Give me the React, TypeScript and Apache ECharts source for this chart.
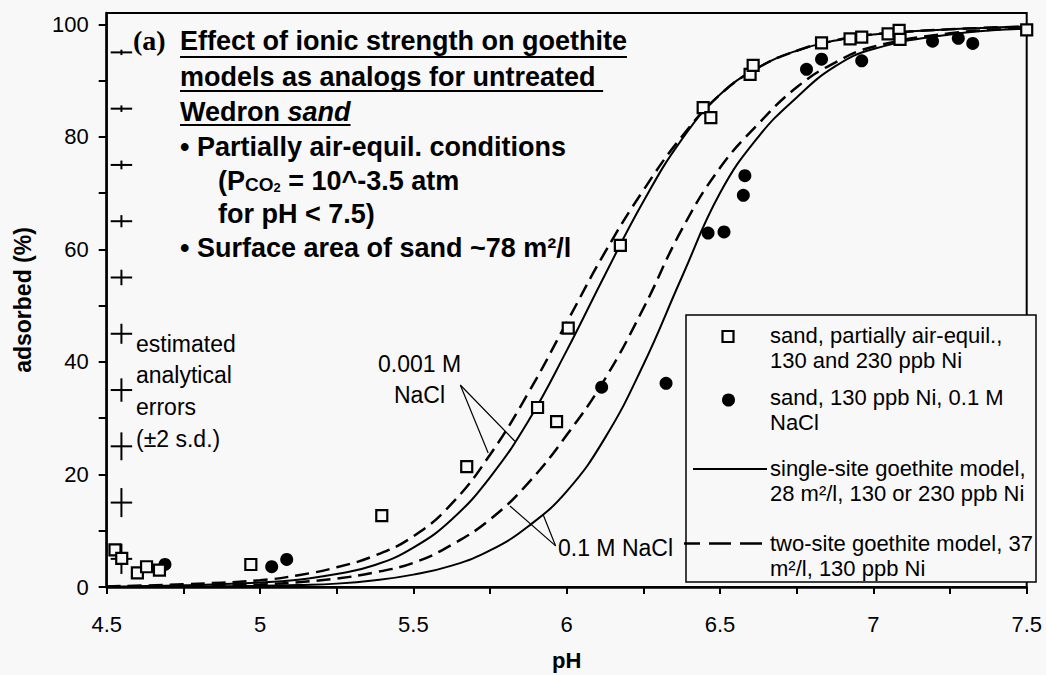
import React, { useEffect, useRef } from "react";
import * as echarts from "echarts";

// Model curves (adsorbed % vs pH) for 0.001 M and 0.1 M NaCl
const curvePH = [4.5, 4.75, 5.0, 5.125, 5.25, 5.375, 5.5, 5.625, 5.75, 5.875, 6.0, 6.125, 6.25, 6.375, 6.5, 6.625, 6.75, 6.875, 7.0, 7.25, 7.5];
const singleSiteLowSalt = [0.05, 0.3, 0.8, 1.3, 2.3, 3.9, 7.0, 12.0, 19.5, 29.5, 42.0, 55.5, 68.5, 79.5, 87.5, 92.3, 95.3, 97.1, 98.2, 99.1, 99.6];
const twoSiteLowSalt = [0.1, 0.5, 1.2, 2.1, 3.5, 5.6, 9.0, 14.8, 23.5, 34.5, 47.0, 59.5, 70.5, 80.0, 87.5, 92.3, 95.3, 97.1, 98.2, 99.1, 99.6];
const singleSiteHighSalt = [0.01, 0.06, 0.2, 0.35, 0.6, 1.2, 2.2, 3.8, 6.5, 10.8, 17.0, 26.5, 39.5, 55.0, 70.0, 80.0, 87.0, 92.5, 95.6, 98.2, 99.2];
const twoSiteHighSalt = [0.03, 0.15, 0.45, 0.85, 1.5, 2.6, 4.3, 7.5, 12.0, 18.5, 27.0, 37.0, 49.5, 63.5, 74.5, 82.3, 88.8, 93.2, 96.0, 98.4, 99.3];

// Measured data: sand, partially air-equilibrated (130 and 230 ppb Ni)
const sandPH = [4.527, 4.549, 4.6, 4.63, 4.672, 4.97, 5.397, 5.674, 5.905, 5.967, 6.005, 6.175, 6.445, 6.47, 6.598, 6.608, 6.831, 6.924, 6.962, 7.048, 7.084, 7.087, 7.5];
const sandAds = [6.6, 5.1, 2.5, 3.6, 3.0, 4.0, 12.7, 21.4, 31.9, 29.4, 46.0, 60.7, 85.2, 83.4, 91.1, 92.7, 96.7, 97.4, 97.7, 98.3, 98.9, 97.3, 99.0];

// Measured data: sand, 130 ppb Ni, 0.1 M NaCl
const saltPH = [4.69, 5.038, 5.087, 6.114, 6.324, 6.461, 6.513, 6.576, 6.581, 6.782, 6.831, 6.962, 7.193, 7.277, 7.324];
const saltAds = [4.0, 3.6, 4.9, 35.5, 36.2, 62.9, 63.1, 69.6, 73.1, 92.0, 93.8, 93.5, 97.0, 97.5, 96.6];

// Estimated analytical errors (±2 s.d.) drawn as crosses at pH 4.548
const errPH = 4.548;
const errPHHalf = 0.035;
const errLevels = [95, 85, 75, 65, 55, 45, 35, 25, 15, 5];
const errHalf = [0.3, 0.4, 0.6, 0.9, 1.2, 1.6, 1.9, 2.3, 2.4, 2.5];

// Leader lines from the ionic-strength labels to the curves [pH1, ads1, pH2, ads2]
const leaderLines = [
  [5.653, 35.9, 5.744, 23.8],
  [5.653, 35.9, 5.831, 25.9],
  [5.964, 7.3, 5.815, 14.4],
  [5.964, 7.3, 5.923, 12.9],
];

// Axis ticks and labels
const xTickValues = [4.5, 4.75, 5.0, 5.25, 5.5, 5.75, 6.0, 6.25, 6.5, 6.75, 7.0, 7.25, 7.5];
const xLabelValues = [4.5, 5.0, 5.5, 6.0, 6.5, 7.0, 7.5];
const yTickValues = [0, 10, 20, 30, 40, 50, 60, 70, 80, 90, 100];
const yLabelValues = [0, 20, 40, 60, 80, 100];

const legendRows = [
  ["sand, partially air-equil.,", "130 and 230 ppb Ni"],
  ["sand, 130 ppb Ni, 0.1 M", "NaCl"],
  ["single-site goethite model,", "28 m\u00b2/l, 130 or 230 ppb Ni"],
  ["two-site goethite model, 37", "m\u00b2/l, 130 ppb Ni"],
];

const BG = "#f8f8f8";
const SANS = '"Liberation Sans", Arial, Helvetica, sans-serif';
const SERIF = '"Liberation Serif", "Times New Roman", serif';

function measure(text: string, font: string): number {
  const ctx = document.createElement("canvas").getContext("2d");
  if (!ctx) return text.length * 14;
  ctx.font = font;
  return ctx.measureText(text).width;
}

function zip(xs: number[], ys: number[]) {
  return xs.map((x, i) => [x, ys[i]]);
}

function curveSeries(name: string, values: number[], dashed: boolean) {
  return {
    name,
    type: "line",
    data: zip(curvePH, values),
    smooth: 0.45,
    showSymbol: false,
    lineStyle: dashed
      ? { color: "#000", width: 2.5, type: [14, 7] }
      : { color: "#000", width: 2 },
    z: 2,
  };
}

export default function App() {
  const ref = useRef<HTMLDivElement>(null);

  useEffect(() => {
    if (!ref.current) return;
    const chart = echarts.init(ref.current, undefined, { renderer: "svg" });

    const titleFont = `bold 27px ${SANS}`;
    const line1 = "Effect of ionic strength on goethite";
    const line2 = "models as analogs for untreated ";
    const w1 = measure(line1, titleFont);
    const w2 = measure(line2, titleFont);
    const w3 = measure("Wedron ", titleFont) + measure("sand", `italic bold 27px ${SANS}`);

    const titleStyle = { fill: "#000", font: titleFont, textVerticalAlign: "middle" };
    const noteStyle = { fill: "#000", fontFamily: SANS, fontSize: 23, textVerticalAlign: "middle" };
    const legStyle = { fill: "#000", fontFamily: SANS, fontSize: 22, textVerticalAlign: "middle" };

    const legendRowY = [335, 397, 468, 543];
    const legendGraphics: any[] = [
      {
        type: "rect",
        shape: { x: 686, y: 315, width: 350, height: 267 },
        style: { fill: BG, stroke: "#000", lineWidth: 1.5 },
        z: 100,
      },
      {
        type: "rect",
        shape: { x: 722.5, y: 331, width: 11, height: 11 },
        style: { fill: BG, stroke: "#000", lineWidth: 2.2 },
        z: 101,
      },
      {
        type: "circle",
        shape: { cx: 728.5, cy: 400, r: 6.5 },
        style: { fill: "#000" },
        z: 101,
      },
      {
        type: "line",
        shape: { x1: 693, y1: 469, x2: 767, y2: 469 },
        style: { stroke: "#000", lineWidth: 2 },
        z: 101,
      },
      {
        type: "line",
        shape: { x1: 762, y1: 543.5, x2: 684, y2: 543.5 },
        style: { stroke: "#000", lineWidth: 2.5, lineDash: [22, 9] },
        z: 101,
      },
    ];
    legendRows.forEach((rows, i) => {
      rows.forEach((t, j) => {
        legendGraphics.push({
          type: "text",
          x: 770,
          y: legendRowY[i] + j * 25,
          style: { ...legStyle, text: t },
          z: 101,
        });
      });
    });

    const option: any = {
      animation: false,
      backgroundColor: BG,
      grid: {
        left: 106.7,
        right: 19.3,
        top: 13,
        bottom: 88,
        outerBoundsMode: "none",
        containLabel: false,
        show: true,
        borderColor: "#000",
        borderWidth: 2,
        backgroundColor: "transparent",
      },
      xAxis: {
        type: "value",
        min: 4.5,
        max: 7.5,
        interval: 0.5,
        name: "pH",
        nameLocation: "middle",
        nameGap: 62,
        nameTextStyle: { color: "#000", fontFamily: SANS, fontWeight: "bold", fontSize: 22 },
        splitLine: { show: false },
        axisLine: { lineStyle: { color: "#000", width: 2.5 } },
        axisTick: { length: 7, lineStyle: { color: "#000", width: 2 }, customValues: xTickValues },
        axisLabel: {
          color: "#000",
          fontFamily: SANS,
          fontSize: 22,
          margin: 26,
          customValues: xLabelValues,
          formatter: (v: number) => String(v),
        },
      },
      yAxis: {
        type: "value",
        min: 0,
        max: 102,
        interval: 20,
        name: "adsorbed (%)",
        nameLocation: "middle",
        nameGap: 72,
        nameRotate: 90,
        nameTextStyle: { color: "#000", fontFamily: SANS, fontWeight: "bold", fontSize: 23 },
        splitLine: { show: false },
        axisLine: { lineStyle: { color: "#000", width: 2.5 } },
        axisTick: { length: 8, lineStyle: { color: "#000", width: 2 }, customValues: yTickValues },
        axisLabel: {
          color: "#000",
          fontFamily: SANS,
          fontSize: 22,
          margin: 18,
          customValues: yLabelValues,
          formatter: (v: number) => String(v),
        },
      },
      series: [
        curveSeries("single-site goethite model, 0.001 M NaCl", singleSiteLowSalt, false),
        curveSeries("two-site goethite model, 0.001 M NaCl", twoSiteLowSalt, true),
        curveSeries("single-site goethite model, 0.1 M NaCl", singleSiteHighSalt, false),
        curveSeries("two-site goethite model, 0.1 M NaCl", twoSiteHighSalt, true),
        {
          name: "leaders",
          type: "custom",
          data: leaderLines,
          silent: true,
          z: 3,
          renderItem: (_p: any, api: any) => {
            const a = api.coord([api.value(0), api.value(1)]);
            const b = api.coord([api.value(2), api.value(3)]);
            return {
              type: "line",
              shape: { x1: a[0], y1: a[1], x2: b[0], y2: b[1] },
              style: { stroke: "#000", lineWidth: 1.2 },
            };
          },
        },
        {
          name: "estimated analytical errors",
          type: "custom",
          data: errLevels.map((v, i) => [errPH, v, errHalf[i], errPHHalf]),
          silent: true,
          z: 3,
          renderItem: (_p: any, api: any) => {
            const x = api.value(0);
            const y = api.value(1);
            const dy = api.value(2);
            const dx = api.value(3);
            const l = api.coord([x - dx, y]);
            const r = api.coord([x + dx, y]);
            const t = api.coord([x, y + dy]);
            const b = api.coord([x, y - dy]);
            return {
              type: "group",
              children: [
                { type: "line", shape: { x1: l[0], y1: l[1], x2: r[0], y2: r[1] }, style: { stroke: "#000", lineWidth: 2 } },
                { type: "line", shape: { x1: t[0], y1: t[1] - 1, x2: b[0], y2: b[1] + 1 }, style: { stroke: "#000", lineWidth: 2 } },
              ],
            };
          },
        },
        {
          name: "sand, partially air-equil., 130 and 230 ppb Ni",
          type: "scatter",
          data: zip(sandPH, sandAds),
          symbol: "rect",
          symbolSize: 11,
          itemStyle: { color: BG, borderColor: "#000", borderWidth: 2.2, opacity: 1 },
          z: 5,
        },
        {
          name: "sand, 130 ppb Ni, 0.1 M NaCl",
          type: "scatter",
          data: zip(saltPH, saltAds),
          symbol: "circle",
          symbolSize: 13,
          itemStyle: { color: "#000", opacity: 1 },
          z: 4,
        },
      ],
      graphic: [
        {
          type: "text",
          x: 133,
          y: 40.6,
          style: { fill: "#000", font: `bold 28px ${SERIF}`, text: "(a)", textVerticalAlign: "middle" },
        },
        { type: "text", x: 180, y: 40.6, style: { ...titleStyle, text: line1 } },
        { type: "line", shape: { x1: 180, y1: 57, x2: 180 + w1, y2: 57 }, style: { stroke: "#000", lineWidth: 2 } },
        { type: "text", x: 180, y: 76.6, style: { ...titleStyle, text: line2 } },
        { type: "line", shape: { x1: 180, y1: 91, x2: 180 + w2, y2: 91 }, style: { stroke: "#000", lineWidth: 2 } },
        {
          type: "text",
          x: 180,
          y: 111.6,
          style: {
            text: "{b|Wedron }{i|sand}",
            textVerticalAlign: "middle",
            rich: {
              b: { fontFamily: SANS, fontWeight: "bold", fontSize: 27, fill: "#000", color: "#000" },
              i: { fontFamily: SANS, fontWeight: "bold", fontStyle: "italic", fontSize: 27, fill: "#000", color: "#000" },
            },
          },
        },
        { type: "line", shape: { x1: 180, y1: 125, x2: 180 + w3, y2: 125 }, style: { stroke: "#000", lineWidth: 2 } },
        { type: "text", x: 180, y: 146.6, style: { ...titleStyle, text: "\u2022 Partially air-equil. conditions" } },
        {
          type: "text",
          x: 218,
          y: 180.6,
          style: {
            text: "{a|(P}{s|CO}{u|2}{a| = 10^-3.5 atm}",
            textVerticalAlign: "middle",
            rich: {
              a: { fontFamily: SANS, fontWeight: "bold", fontSize: 27, color: "#000" },
              s: { fontFamily: SANS, fontWeight: "bold", fontSize: 19, color: "#000", verticalAlign: "bottom", lineHeight: 24 },
              u: { fontFamily: SANS, fontWeight: "bold", fontSize: 13, color: "#000", verticalAlign: "bottom", lineHeight: 14 },
            },
          },
        },
        { type: "text", x: 218, y: 213.6, style: { ...titleStyle, text: "for pH < 7.5)" } },
        { type: "text", x: 180, y: 247.6, style: { ...titleStyle, text: "\u2022 Surface area of sand ~78 m\u00b2/l" } },

        { type: "text", x: 136, y: 343.7, style: { ...noteStyle, text: "estimated" } },
        { type: "text", x: 136, y: 375, style: { ...noteStyle, text: "analytical" } },
        { type: "text", x: 136, y: 407, style: { ...noteStyle, text: "errors" } },
        { type: "text", x: 136, y: 438.7, style: { ...noteStyle, text: "(\u00b12 s.d.)" } },

        { type: "text", x: 419.5, y: 363.7, style: { ...noteStyle, text: "0.001 M", textAlign: "center" } },
        { type: "text", x: 419.5, y: 395.3, style: { ...noteStyle, text: "NaCl", textAlign: "center" } },
        { type: "text", x: 558, y: 548, style: { ...noteStyle, text: "0.1 M NaCl" } },

        ...legendGraphics,
      ],
    };

    chart.setOption(option);
    return () => chart.dispose();
  }, []);

  return (
    <div
      ref={ref}
      style={{ position: "fixed", left: 0, top: 0, width: 1046, height: 675, background: BG }}
    />
  );
}
